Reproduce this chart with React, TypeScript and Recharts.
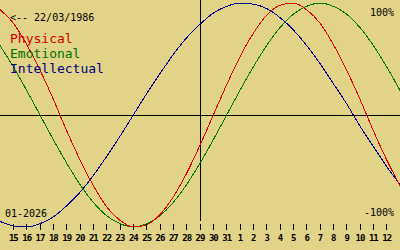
import { LineChart, Line, XAxis, YAxis, ReferenceLine } from 'recharts';

// days shown on the axis (15 Jan .. 12 Feb 2026)
const dayLabels = [
  '15', '16', '17', '18', '19', '20', '21', '22', '23', '24', '25', '26', '27', '28', '29',
  '30', '31', '1', '2', '3', '4', '5', '6', '7', '8', '9', '10', '11', '12',
];

// one value per day from 14 Jan to 13 Feb (first and last fall just outside the ticks)
const physical = [
  0.94, 0.82, 0.63, 0.40, 0.14, -0.14, -0.40, -0.63, -0.82, -0.94, -1.0, -0.98, -0.89, -0.73, -0.52,
  -0.27, 0, 0.27, 0.52, 0.73, 0.89, 0.98, 1.0, 0.94, 0.82, 0.63, 0.40, 0.14, -0.14, -0.40, -0.63,
];
const emotional = [
  0.62, 0.43, 0.22, 0, -0.22, -0.43, -0.62, -0.78, -0.90, -0.97, -1.0, -0.97, -0.90, -0.78, -0.62,
  -0.43, -0.22, 0, 0.22, 0.43, 0.62, 0.78, 0.90, 0.97, 1.0, 0.97, 0.90, 0.78, 0.62, 0.43, 0.22,
];
const intellectual = [
  -0.95, -0.99, -1.0, -0.97, -0.91, -0.81, -0.69, -0.54, -0.37, -0.19, 0, 0.19, 0.37, 0.54, 0.69,
  0.81, 0.91, 0.97, 1.0, 0.99, 0.95, 0.87, 0.76, 0.62, 0.46, 0.28, 0.10, -0.10, -0.28, -0.46, -0.62,
];

const data = physical.map((p, idx) => ({
  i: idx - 1,
  physical: p,
  emotional: emotional[idx],
  intellectual: intellectual[idx],
}));

const mono = '"DejaVu Sans Mono", monospace';

function DayTick(props: any) {
  const { x, y, payload } = props;
  return (
    <g>
      <line x1={x} x2={x} y1={y - 3} y2={y + 3} stroke="#000" shapeRendering="crispEdges" />
      <text
        x={x}
        y={y + 14}
        textAnchor="middle"
        fontFamily={mono}
        fontSize={9}
        fontWeight="bold"
        letterSpacing={-1}
        fill="#000"
      >
        {dayLabels[payload.value]}
      </text>
    </g>
  );
}

export default function App() {
  return (
    <div style={{ width: 400, height: 250, background: '#e1d388', position: 'relative' }}>
      <style>{'body{margin:0}'}</style>
      <LineChart width={400} height={250} data={data} margin={{ top: 3, right: 0, left: 0, bottom: 0 }}>
        <XAxis
          type="number"
          dataKey="i"
          domain={[-1, 29]}
          ticks={dayLabels.map((_, k) => k)}
          axisLine={false}
          tickLine={false}
          tickSize={0}
          tickMargin={0}
          height={23}
          interval={0}
          tick={<DayTick />}
        />
        <YAxis hide width={0} domain={[-1, 1]} />
        <ReferenceLine y={0} stroke="#000" shapeRendering="crispEdges" />
        <ReferenceLine
          segment={[{ x: 14, y: 1.03 }, { x: 14, y: -0.95 }]}
          ifOverflow="visible"
          stroke="#000"
          shapeRendering="crispEdges"
        />
        <Line type="monotone" dataKey="intellectual" stroke="#000090" strokeWidth={1} dot={false} shapeRendering="crispEdges" isAnimationActive={false} />
        <Line type="monotone" dataKey="emotional" stroke="#007800" strokeWidth={1} dot={false} shapeRendering="crispEdges" isAnimationActive={false} />
        <Line type="monotone" dataKey="physical" stroke="#e00000" strokeWidth={1} dot={false} shapeRendering="crispEdges" isAnimationActive={false} />
      </LineChart>
      <svg width={400} height={250} style={{ position: 'absolute', left: 0, top: 0, pointerEvents: 'none' }}>
        <text x={10} y={21} fontFamily={mono} fontSize={10} fill="#000">{'<-- 22/03/1986'}</text>
        <text x={10} y={43} fontFamily={mono} fontSize={13} fill="#d00000">Physical</text>
        <text x={10} y={58} fontFamily={mono} fontSize={13} fill="#007000">Emotional</text>
        <text x={10} y={73} fontFamily={mono} fontSize={13} fill="#000080">Intellectual</text>
        <text x={394} y={16} textAnchor="end" fontFamily={mono} fontSize={10} fill="#000">100%</text>
        <text x={394} y={216} textAnchor="end" fontFamily={mono} fontSize={10} fill="#000">-100%</text>
        <text x={5} y={217} fontFamily={mono} fontSize={10} fill="#000">01-2026</text>
      </svg>
    </div>
  );
}
